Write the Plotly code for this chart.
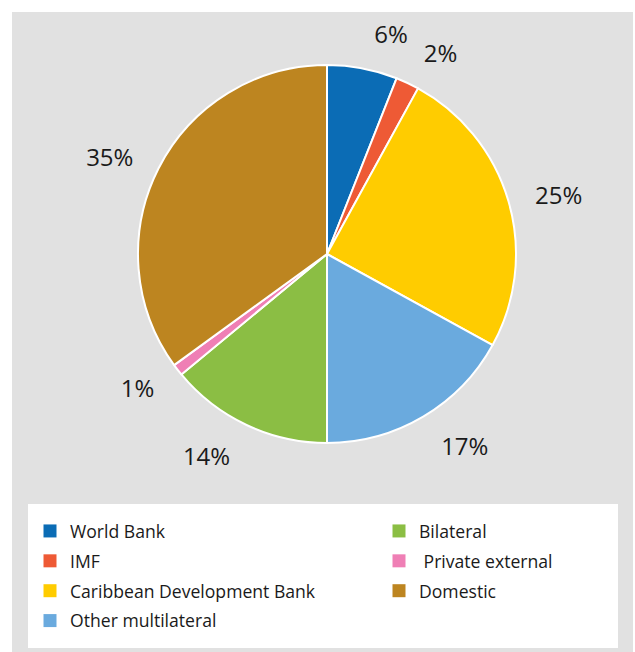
import plotly.graph_objects as go

# ---- data ----
labels = ["World Bank", "IMF", "Caribbean Development Bank", "Other multilateral",
          "Bilateral", "Private external", "Domestic"]
values = [6, 2, 25, 17, 14, 1, 35]
colors = ["#0b6cb5", "#ee5a35", "#ffcc00", "#6aaade", "#8bbe44", "#ef7fb5", "#bd8520"]
slice_text = ["6%", "2%", "25%", "17%", "14%", "1%", "35%"]
legend_names = ["World Bank", "IMF", "Caribbean Development Bank", "Other multilateral",
                "Bilateral", "\u00a0Private external", "Domestic"]
legend_column = [1, 1, 1, 1, 2, 2, 2]
# which label layer each slice's text is drawn in (keeps plotly from pushing
# neighbouring small-slice labels apart)
text_layer = [1, 0, 0, 0, 0, 0, 0]

W, H = 635, 652
ML, MR, MT, MB = 12, 2, 12, 0
PW, PH = W - ML - MR, H - MT - MB
CX, CY, R = 327, 254, 189
R_TEXT = 208


def dom(r):
    return dict(x=[(CX - r - ML) / PW, (CX + r - ML) / PW],
                y=[(H - (CY + r)) / PH, (H - (CY - r)) / PH])


fig = go.Figure()

fig.add_trace(go.Pie(
    labels=labels, values=values, sort=False, direction="clockwise", rotation=0,
    marker=dict(colors=colors, line=dict(color="white", width=2)),
    textinfo="none", hoverinfo="label+percent", showlegend=False,
    domain=dom(R),
))

for layer in (0, 1):
    fig.add_trace(go.Pie(
        labels=labels, values=values, sort=False, direction="clockwise", rotation=0,
        marker=dict(colors=["rgba(0,0,0,0)"] * len(values), line=dict(width=0)),
        text=[t if l == layer else "" for t, l in zip(slice_text, text_layer)],
        textinfo="text", textposition="outside",
        outsidetextfont=dict(family="Open Sans", size=24, color="#1a1a1a"),
        hoverinfo="skip", showlegend=False,
        domain=dom(R_TEXT),
    ))

for name, col, c in zip(legend_names, colors, legend_column):
    fig.add_trace(go.Scatter(
        x=[None], y=[None], mode="markers", name=name,
        marker=dict(symbol="square", size=13, color=col),
        legend="legend" if c == 1 else "legend2",
        legendgroup=name,
    ))

fig.add_shape(type="rect", xref="paper", yref="paper", x0=0, x1=1, y0=0, y1=1,
              fillcolor="#e1e1e1", line=dict(width=0), layer="below")
fig.add_shape(type="rect", xref="paper", yref="paper",
              x0=(28 - ML) / PW, x1=(618 - ML) / PW,
              y0=(H - 648) / PH, y1=(H - 504) / PH,
              fillcolor="white", line=dict(width=0), layer="below")

legend_common = dict(
    font=dict(family="Open Sans", size=17.6, color="#1a1a1a"),
    bgcolor="rgba(0,0,0,0)", borderwidth=0,
    orientation="v", xanchor="left", yanchor="top",
    traceorder="grouped", tracegroupgap=4,
    y=(H - 513) / PH,
)

fig.update_layout(
    width=W, height=H,
    margin=dict(l=ML, r=MR, t=MT, b=MB),
    paper_bgcolor="white", plot_bgcolor="rgba(0,0,0,0)",
    xaxis=dict(visible=False), yaxis=dict(visible=False),
    legend=dict(x=(30 - ML) / PW, **legend_common),
    legend2=dict(x=(379 - ML) / PW, **legend_common),
    showlegend=True,
)

fig.write_html("out.html")
